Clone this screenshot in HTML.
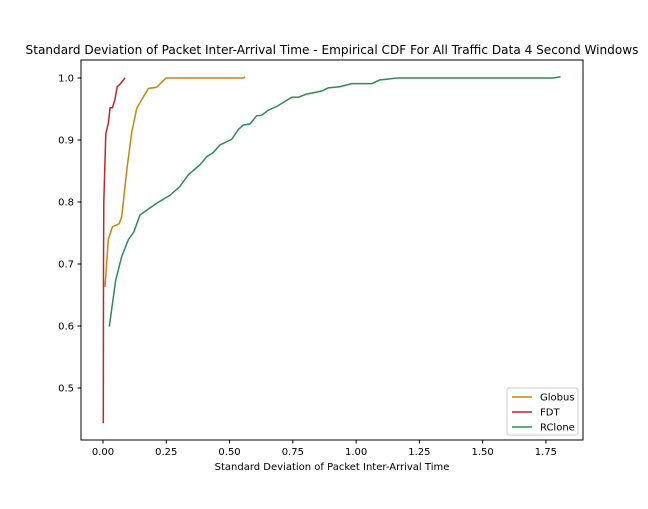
<!DOCTYPE html>
<html><head><meta charset="utf-8"><style>
body{margin:0;background:#fff;font-family:"Liberation Sans","DejaVu Sans",sans-serif;}
svg text{font-family:"DejaVu Sans","Liberation Sans",sans-serif;}
</style></head><body>
<svg id="chart" width="648" height="504">
<rect width="648" height="504" fill="#fff"/>
<text x="332" y="54" text-anchor="middle" font-size="12.1">Standard Deviation of Packet Inter-Arrival Time - Empirical CDF For All Traffic Data 4 Second Windows</text>
<g id="axes"></g>
<g id="series"></g>
<rect x="81" y="60" width="502" height="380" fill="none" stroke="#000" stroke-width="1"/>
<text x="332" y="470" text-anchor="middle" font-size="10">Standard Deviation of Packet Inter-Arrival Time</text>
<g id="legend">
<rect x="507" y="388" width="71" height="47" fill="#fff" stroke="#ccc" rx="2"/>
</g>
</svg>
<script>
const xTicks=[0,0.25,0.5,0.75,1.0,1.25,1.5,1.75];
const xTickLabels=["0.00","0.25","0.50","0.75","1.00","1.25","1.50","1.75"];
const yTicks=[0.5,0.6,0.7,0.8,0.9,1.0];
const yTickLabels=["0.5","0.6","0.7","0.8","0.9","1.0"];
const seriesNames=["Globus","FDT","RClone"];
const seriesColors=["#c8860a","#c0262d","#2e8b57"];
const globusX=[0.008,0.021,0.037,0.064,0.074,0.094,0.113,0.133,0.153,0.179,0.212,0.249,0.556,0.561];
const globusY=[0.663,0.739,0.760,0.765,0.776,0.852,0.911,0.951,0.965,0.983,0.985,1.0,1.0,1.002];
const fdtX=[0.001,0.002,0.003,0.011,0.021,0.028,0.037,0.047,0.056,0.067,0.077,0.087];
const fdtY=[0.443,0.700,0.80,0.91,0.927,0.952,0.952,0.965,0.986,0.99,0.995,1.0];
const rcloneX=[0.025,0.050,0.074,0.100,0.122,0.146,0.173,0.212,0.265,0.304,0.337,0.383,0.410,0.436,0.462,0.508,0.535,0.554,0.581,0.607,0.627,0.653,0.686,0.746,0.772,0.805,0.864,0.890,0.936,0.983,1.062,1.094,1.121,1.160,1.779,1.808];
const rcloneY=[0.599,0.674,0.712,0.739,0.752,0.779,0.787,0.798,0.811,0.825,0.844,0.860,0.873,0.880,0.892,0.901,0.917,0.924,0.926,0.939,0.940,0.948,0.954,0.969,0.969,0.974,0.979,0.984,0.986,0.991,0.991,0.997,0.998,1.0,1.0,1.002];
const NS="http://www.w3.org/2000/svg";
const sx=v=>103+v*253.1;
const sy=p=>78+(1-p)*620;
const axes=document.getElementById('axes');
function mk(tag,attrs,parent){const e=document.createElementNS(NS,tag);for(const k in attrs)e.setAttribute(k,attrs[k]);parent.appendChild(e);return e;}
xTicks.forEach((t,i)=>{
  const l=mk('line',{x1:sx(t),x2:sx(t),y1:440,y2:443.5,stroke:'#000'},axes);
  
  
  const tx=mk('text',{x:sx(t),y:455,'text-anchor':'middle','font-size':10},axes);
  tx.textContent=xTickLabels[i];
  
  
});
yTicks.forEach((t,i)=>{
  const l=mk('line',{x1:77.5,x2:81,y1:sy(t),y2:sy(t),stroke:'#000'},axes);
  
  
  const tx=mk('text',{x:74,y:sy(t)+3.5,'text-anchor':'end','font-size':10},axes);
  tx.textContent=yTickLabels[i];
  
  
});
const sg=document.getElementById('series');
[[globusX,globusY],[fdtX,fdtY],[rcloneX,rcloneY]].forEach((s,i)=>{
  const d=s[0].map((x,j)=>(j?'L':'M')+sx(x).toFixed(1)+','+sy(s[1][j]).toFixed(1)).join(' ');
  const p=mk('path',{d:d,fill:'none',stroke:seriesColors[i],'stroke-width':1.5},sg);
  
  
});
const lg=document.getElementById('legend');
seriesNames.forEach((n,i)=>{
  const y=397+i*15;
  const l=mk('line',{x1:512,x2:532,y1:y,y2:y,stroke:seriesColors[i],'stroke-width':1.5},lg);
  
  
  const t=mk('text',{x:540,y:y+3.5,'font-size':10},lg);
  t.textContent=n;
  
  
});
</script>
</body></html>
